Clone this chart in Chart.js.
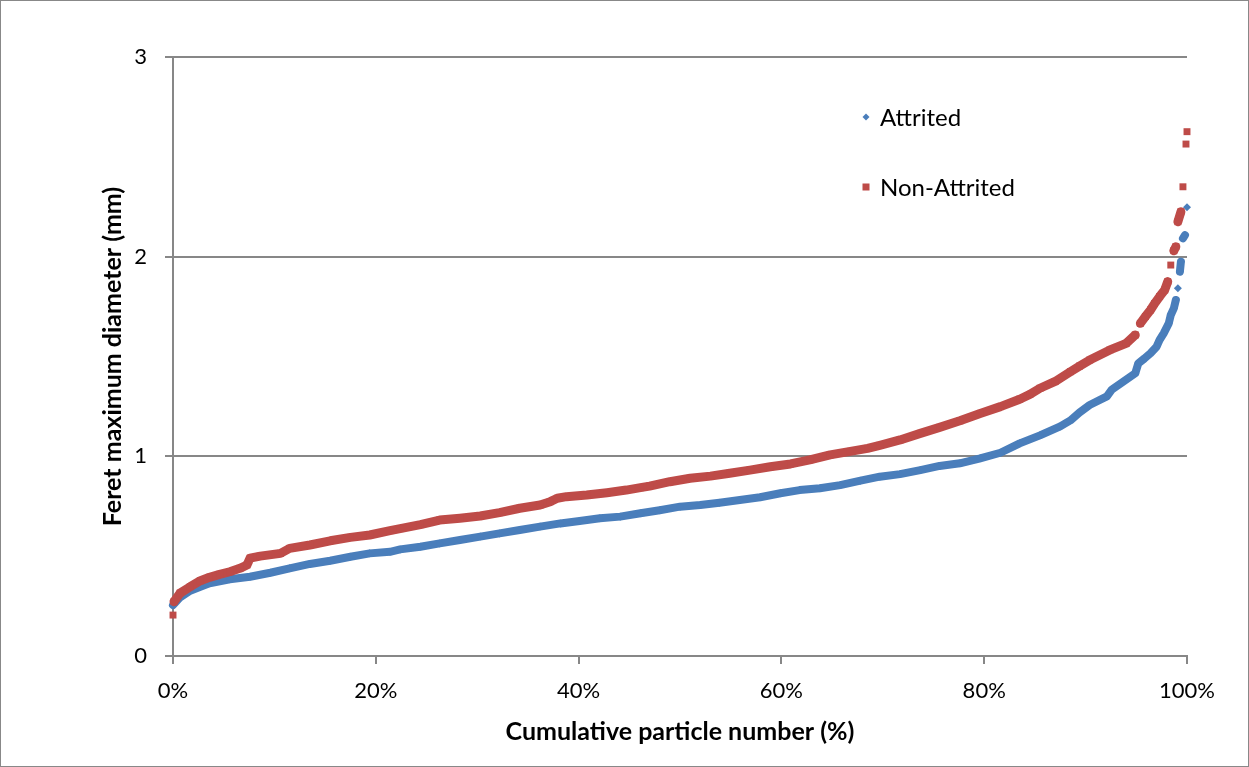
<!DOCTYPE html>
<html>
<head>
<meta charset="utf-8">
<script src="https://cdn.jsdelivr.net/npm/chart.js@4.4.0/dist/chart.umd.min.js"></script>
<style>
  html, body { margin: 0; padding: 0; background: #fff; }
  canvas { display: block; }
</style>
</head>
<body>
<canvas id="chart" width="1249" height="767"></canvas>
<script>
// Cumulative particle number (%) against Feret maximum diameter (mm)
const seriesNames = ['Attrited', 'Non-Attrited'];

const attritedX = [0, 0.7, 1.7, 2.7, 3.6, 5.6, 7.6, 9.6, 11.5, 13.5, 15.5, 17.5, 19.4, 21.4, 22.4,
  24.4, 26.3, 28.3, 30.3, 32.2, 34.2, 36.2, 38.2, 40.1, 42.1, 44.1, 46.1, 48.0, 50.0, 52.0,
  53.9, 55.9, 57.9, 59.9, 61.8, 63.8, 65.8, 67.8, 69.7, 71.7, 73.7, 75.6, 77.6, 79.6, 81.6,
  83.5, 85.5, 87.5, 88.5, 89.4, 90.4, 92.1, 92.6, 93.7, 94.9, 95.2, 95.8, 96.4, 97.0, 97.3,
  97.7, 98.2, 98.4, 98.7, 98.9, 99.1, 99.3, 99.4, 99.6, 99.8, 100];
const attritedY = [0.255, 0.294, 0.327, 0.347, 0.364, 0.384, 0.397, 0.417, 0.439, 0.461, 0.477, 0.497, 0.514, 0.522, 0.534,
  0.547, 0.564, 0.581, 0.598, 0.614, 0.631, 0.648, 0.664, 0.676, 0.690, 0.698, 0.715, 0.730, 0.748, 0.756,
  0.768, 0.781, 0.795, 0.815, 0.831, 0.840, 0.856, 0.878, 0.898, 0.911, 0.931, 0.952, 0.965, 0.990, 1.018,
  1.065, 1.105, 1.150, 1.180, 1.220, 1.257, 1.300, 1.335, 1.374, 1.416, 1.466, 1.490, 1.516, 1.549, 1.583,
  1.616, 1.666, 1.708, 1.741, 1.783, 1.842, 1.925, 1.975, 2.092, 2.108, 2.247];

const nonAttritedX = [0, 0.1, 0.7, 1.7, 2.7, 3.6, 4.6, 5.6, 6.6, 7.3, 7.6, 8.6, 10.6, 11.5, 13.5,
  15.5, 17.5, 19.4, 21.4, 22.4, 24.4, 26.3, 28.3, 30.3, 32.2, 34.2, 36.2, 37.2, 37.9, 38.8,
  40.8, 42.8, 44.7, 46.1, 47.0, 49.0, 51.0, 53.0, 54.9, 56.9, 58.9, 60.9, 62.8, 64.8, 66.8,
  68.5, 69.7, 71.7, 73.7, 75.6, 77.6, 79.6, 81.6, 83.5, 84.5, 85.5, 87.0, 88.5, 89.4, 90.4,
  92.4, 94.0, 94.9, 95.4, 95.9, 96.4, 96.8, 97.3, 97.8, 98.1, 98.4, 98.7, 98.9, 99.1, 99.4,
  99.6, 99.9, 100];
const nonAttritedY = [0.205, 0.272, 0.315, 0.347, 0.377, 0.394, 0.409, 0.422, 0.439, 0.456, 0.490, 0.500, 0.514, 0.539, 0.556,
  0.577, 0.594, 0.606, 0.628, 0.638, 0.658, 0.681, 0.690, 0.701, 0.718, 0.740, 0.756, 0.773, 0.790, 0.798,
  0.806, 0.818, 0.831, 0.843, 0.851, 0.873, 0.890, 0.901, 0.915, 0.931, 0.948, 0.962, 0.982, 1.007, 1.025,
  1.040, 1.055, 1.082, 1.115, 1.145, 1.178, 1.215, 1.249, 1.286, 1.310, 1.341, 1.375, 1.424, 1.452, 1.482,
  1.533, 1.566, 1.608, 1.666, 1.700, 1.733, 1.765, 1.800, 1.833, 1.875, 1.958, 2.030, 2.050, 2.175, 2.225,
  2.350, 2.564, 2.626];

const xTickValues = [0, 20, 40, 60, 80, 100];
const yTickValues = [0, 1, 2, 3];

const BLUE = '#4a7ebb';
const RED = '#be4b48';
const AXIS_GREY = '#878787';
const FONT = 'Lato, "Open Sans", sans-serif';

const toPoints = (xs, ys) => xs.map((x, i) => ({ x, y: ys[i] }));

// dense runs of particles read as a solid band; isolated particles stay separate markers
const bandSegment = color => ctx =>
  Math.abs(ctx.p1.y - ctx.p0.y) > 10.5 ? 'rgba(0,0,0,0)' : color;

const frame = {
  id: 'frame',
  beforeDraw(chart) {
    const { ctx, width, height } = chart;
    ctx.save();
    ctx.fillStyle = '#fff';
    ctx.fillRect(0, 0, width, height);
    ctx.restore();
  },
  afterDraw(chart) {
    const { ctx, width, height } = chart;
    ctx.save();
    ctx.strokeStyle = '#888';
    ctx.lineWidth = 1;
    ctx.strokeRect(0.5, 0.5, width - 1, height - 1);
    ctx.restore();
  }
};

const insideLegend = {
  id: 'insideLegend',
  afterDatasetsDraw(chart) {
    const { ctx, chartArea } = chart;
    ctx.save();
    ctx.font = '24px ' + FONT;
    ctx.textBaseline = 'middle';
    ctx.textAlign = 'left';
    chart.data.datasets.forEach((ds, i) => {
      const mx = chartArea.left + 693;
      const my = chartArea.top + 60 + i * 70;
      ctx.fillStyle = ds.backgroundColor;
      if (ds.pointStyle === 'rectRot') {
        ctx.beginPath();
        ctx.moveTo(mx - 3.5, my);
        ctx.lineTo(mx, my - 3.5);
        ctx.lineTo(mx + 3.5, my);
        ctx.lineTo(mx, my + 3.5);
        ctx.closePath();
        ctx.fill();
      } else {
        ctx.fillRect(mx - 3.5, my - 3.5, 7, 7);
      }
      ctx.fillStyle = '#000';
      ctx.fillText(ds.label, mx + 14, my + 1);
    });
    ctx.restore();
  }
};

new Chart(document.getElementById('chart'), {
  type: 'scatter',
  data: {
    datasets: [
      {
        label: seriesNames[0],
        data: toPoints(attritedX, attritedY),
        showLine: true,
        clip: false,
        borderColor: BLUE,
        backgroundColor: BLUE,
        borderWidth: 8,
        borderCapStyle: 'round',
        borderJoinStyle: 'round',
        segment: { borderColor: bandSegment(BLUE) },
        pointStyle: 'rectRot',
        pointRadius: 4,
        pointBorderWidth: 0,
        order: 1
      },
      {
        label: seriesNames[1],
        data: toPoints(nonAttritedX, nonAttritedY),
        showLine: true,
        clip: false,
        borderColor: RED,
        backgroundColor: RED,
        borderWidth: 9,
        borderCapStyle: 'round',
        borderJoinStyle: 'round',
        segment: { borderColor: bandSegment(RED) },
        pointStyle: 'rect',
        pointRadius: 4.9,
        pointBorderWidth: 0,
        order: 0
      }
    ]
  },
  options: {
    responsive: false,
    animation: false,
    devicePixelRatio: 1,
    layout: { padding: { top: 57, right: 62, left: 0, bottom: 0 } },
    plugins: {
      legend: { display: false },
      tooltip: { enabled: false }
    },
    scales: {
      x: {
        type: 'linear',
        min: 0,
        max: 100,
        afterFit: s => { s.height = 111; },
        afterBuildTicks: s => { s.ticks = xTickValues.map(v => ({ value: v })); },
        ticks: {
          callback: v => v + '%',
          color: '#000',
          font: { family: FONT, size: 22 },
          padding: 14,
          maxRotation: 0
        },
        grid: {
          drawOnChartArea: false,
          drawTicks: true,
          tickLength: 8,
          color: AXIS_GREY,
          lineWidth: 2
        },
        border: { display: true, color: AXIS_GREY, width: 2 },
        title: {
          display: true,
          text: 'Cumulative particle number (%)',
          color: '#000',
          font: { family: FONT, size: 25, weight: 'bold' },
          padding: { top: 0, bottom: 20 }
        }
      },
      y: {
        type: 'linear',
        min: 0,
        max: 3,
        afterFit: s => { s.width = 173; },
        afterBuildTicks: s => { s.ticks = yTickValues.map(v => ({ value: v })); },
        ticks: {
          color: '#000',
          font: { family: FONT, size: 22 },
          padding: 18
        },
        grid: {
          drawTicks: true,
          tickLength: 8,
          color: AXIS_GREY,
          lineWidth: 2
        },
        border: { display: true, color: AXIS_GREY, width: 2 },
        title: {
          display: true,
          text: 'Feret maximum diameter (mm)',
          color: '#000',
          font: { family: FONT, size: 25, weight: 'bold' },
          padding: { top: 98, bottom: 0 }
        }
      }
    }
  },
  plugins: [frame, insideLegend]
});
</script>
</body>
</html>
